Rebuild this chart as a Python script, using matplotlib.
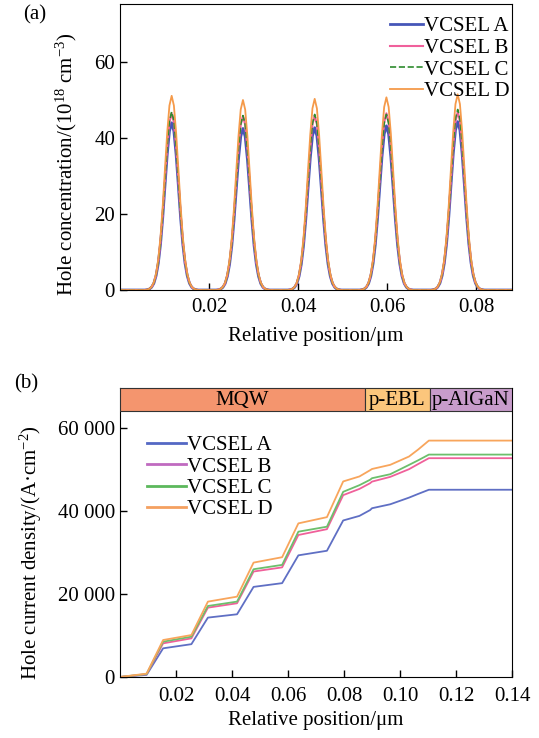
import matplotlib
matplotlib.use('Agg')
import matplotlib.pyplot as plt
from matplotlib.patches import Rectangle
from matplotlib.lines import Line2D
from matplotlib.ticker import FuncFormatter
import numpy as np

plt.rcParams['font.family'] = ['Liberation Serif', 'DejaVu Serif']
plt.rcParams['mathtext.fontset'] = 'custom'
plt.rcParams['mathtext.rm'] = 'Liberation Serif'
plt.rcParams['mathtext.it'] = 'Liberation Serif:italic'
plt.rcParams['font.size'] = 15

labels = ['VCSEL A', 'VCSEL B', 'VCSEL C', 'VCSEL D']

well_pos = [0.0116, 0.0276, 0.0437, 0.0598, 0.0758]
peak_a = [44.0, 42.5, 42.7, 43.2, 44.3]
peak_b = [46.5, 45.8, 45.9, 46.5, 46.8]
peak_c = [46.9, 45.9, 46.2, 46.2, 47.5]
peak_d = [51.1, 50.0, 50.3, 50.7, 51.5]
shape_dx = [-0.006, -0.0055, -0.005, -0.0045, -0.004, -0.0035, -0.003, -0.0025, -0.002,
            -0.0015, -0.001, -0.0005, 0.0, 0.0005, 0.001, 0.0015, 0.002, 0.0025, 0.003,
            0.0035, 0.004, 0.0045, 0.005, 0.0055, 0.006]
shape_f = [0.0, 0.002, 0.006, 0.017, 0.040, 0.085, 0.160, 0.275, 0.435, 0.625, 0.810, 0.950,
           1.0, 0.950, 0.810, 0.625, 0.435, 0.275, 0.160, 0.085, 0.040, 0.017, 0.006, 0.002, 0.0]

# (b) hole current density
pos_b = [0, 0.0095, 0.0154, 0.0255, 0.0314, 0.0418, 0.0477, 0.0579, 0.0637, 0.0739,
         0.0797, 0.0855, 0.0893, 0.0900, 0.0965, 0.1032, 0.1065, 0.1103, 0.14]
j_a = [0, 500, 6900, 7900, 14300, 15100, 21700, 22600, 29300, 30400,
       37700, 38800, 40200, 40650, 41600, 43200, 44100, 45100, 45100]
j_b = [0, 650, 8100, 9300, 16700, 17750, 25400, 26400, 34200, 35600,
       43800, 45300, 46670, 47060, 48200, 50050, 51300, 52700, 52700]
j_c = [0, 700, 8500, 9700, 17100, 18150, 25950, 27000, 35000, 36200,
       44600, 46200, 47500, 47880, 48840, 51080, 52200, 53570, 53570]
j_d = [0, 800, 8900, 10100, 18150, 19350, 27550, 28850, 37000, 38500,
       47100, 48300, 49800, 50100, 51100, 53100, 54800, 56940, 56940]

regions = ['MQW', 'p-EBL', 'p-AlGaN']
region_edges = [0, 0.0875, 0.1106, 0.14]
region_colors = ['#f4956e', '#fbc67c', '#c89ccb']


def profile(peaks):
    xs = [0.0]
    ys = [0.0]
    for c, h in zip(well_pos, peaks):
        for dx, f in zip(shape_dx, shape_f):
            xs.append(c + dx)
            ys.append(h * f)
    xs.append(0.088)
    ys.append(0.0)
    return xs, ys


fig = plt.figure(figsize=(5.39, 7.38), dpi=100)

# ---- (a)
ax1 = fig.add_axes([0.2226, 0.607, 0.7274, 0.3878])
style_a = [('#4656b8', '-', 2.0), ('#f0609c', '-', 1.5), ('#2e8b2e', '--', 1.2), ('#f59a4a', '-', 1.3)]
for pk, lab, (col, ls, lw) in zip([peak_a, peak_b, peak_c, peak_d], labels, style_a):
    xs, ys = profile(pk)
    ax1.plot(xs, ys, color=col, ls=ls, lw=lw, label=lab)
ax1.set_xlim(0, 0.088)
ax1.set_ylim(0, 75.3)
ax1.set_xticks([0.02, 0.04, 0.06, 0.08])
ax1.set_xticklabels(['0.02', '0.04', '0.06', '0.08'])
ax1.set_yticks([0, 20, 40, 60])
ax1.tick_params(direction='in', length=5, width=1)
ax1.tick_params(axis='x', pad=6)
ax1.set_xlabel('Relative position/μm', labelpad=7)
ax1.set_ylabel('Hole concentration/(10$^{18}$ cm$^{-3}$)')
ax1.yaxis.set_label_coords(-0.105, 0.44)
ax1.legend(loc='upper right', bbox_to_anchor=(0.995, 0.955), frameon=False, borderpad=0,
           handlelength=1.6, handletextpad=0.05, labelspacing=0.1, borderaxespad=0)
fig.text(0.065, 0.98, '(a)', ha='center', va='center')

# ---- (b)
ax2 = fig.add_axes([0.2226, 0.0827, 0.7274, 0.3915])
cols_b = ['#5f6fc4', '#f0609a', '#6cbf6c', '#f8a55c']
for j, lab, col in zip([j_a, j_b, j_c, j_d], labels, cols_b):
    ax2.plot(pos_b, j, color=col, lw=1.3, label=lab)
ax2.set_xlim(0, 0.14)
ax2.set_ylim(0, 69600)
for name, x0, x1, col in zip(regions, region_edges[:-1], region_edges[1:], region_colors):
    ax2.add_patch(Rectangle((x0, 64000), x1 - x0, 5600, facecolor=col, edgecolor='#333333',
                            lw=0.8, zorder=3))
    ax2.text((x0 + x1) / 2, 66700, name, ha='center', va='center', zorder=4)
ax2.set_xticks([0.02, 0.04, 0.06, 0.08, 0.10, 0.12, 0.14])
ax2.set_xticklabels(['0.02', '0.04', '0.06', '0.08', '0.10', '0.12', '0.14'])
ax2.set_yticks([0, 20000, 40000, 60000])
ax2.yaxis.set_major_formatter(FuncFormatter(lambda v, p: f'{int(v):,}'.replace(',', ' ')))
ax2.tick_params(direction='in', length=5, width=1)
ax2.tick_params(axis='x', pad=7)
ax2.set_xlabel('Relative position/μm', labelpad=4)
ax2.set_ylabel('Hole current density/(A·cm$^{-2}$)')
ax2.yaxis.set_label_coords(-0.195, 0.43)
handles_b = [Line2D([], [], color=c, lw=2) for c in ['#5468c4', '#c06ac0', '#5cb85c', '#f4a060']]
ax2.legend(handles_b, labels, loc='upper left', bbox_to_anchor=(0.068, 0.835), frameon=False,
           borderpad=0, handlelength=1.9, handletextpad=0.05, labelspacing=0.08, borderaxespad=0)
fig.text(0.048, 0.48, '(b)', ha='center', va='center')

fig.savefig('out.png', dpi=100)
